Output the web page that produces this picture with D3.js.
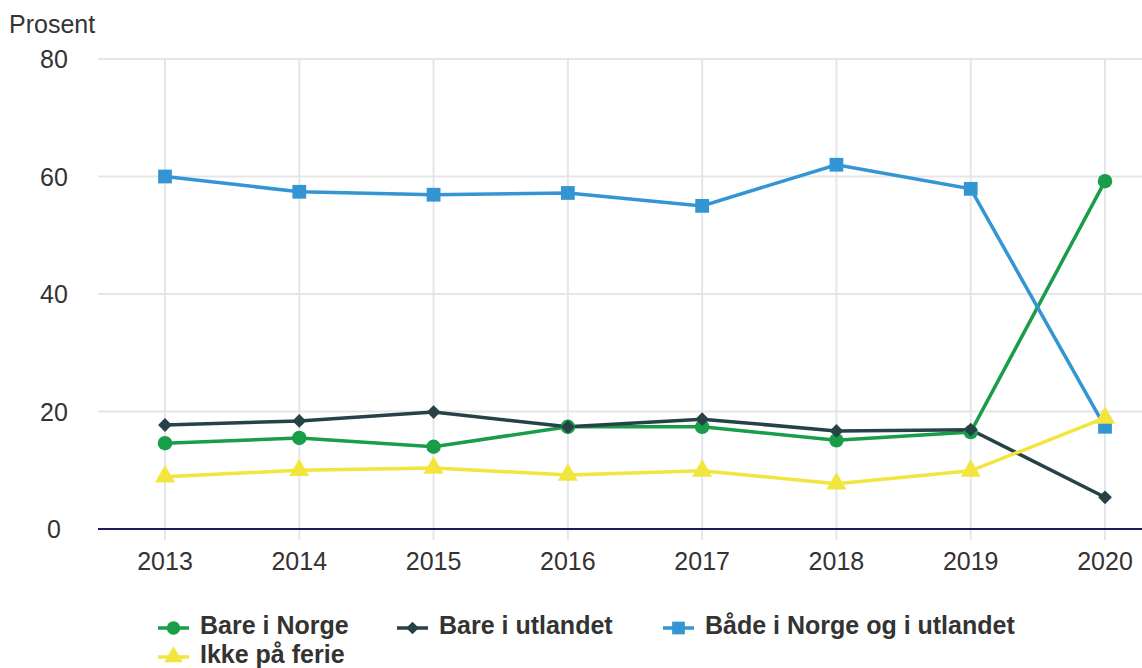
<!DOCTYPE html>
<html>
<head>
<meta charset="utf-8">
<script src="https://cdn.jsdelivr.net/npm/d3@7"></script>
<style>
	body { margin: 0; background: #fff; }
	svg { font-family: "Liberation Sans", Arial, sans-serif; display: block; }
</style>
</head>
<body>
<div id="chart"></div>
<script>
const years = ["2013", "2014", "2015", "2016", "2017", "2018", "2019", "2020"];
const yTicks = [0, 20, 40, 60, 80];

const bareNorge = [14.6, 15.5, 14.0, 17.4, 17.4, 15.1, 16.5, 59.2];
const bareUtlandet = [17.7, 18.4, 19.9, 17.4, 18.7, 16.7, 16.9, 5.4];
const baade = [60.0, 57.4, 56.9, 57.2, 55.0, 62.0, 57.9, 17.4];
const ikkeFerie = [8.9, 10.0, 10.4, 9.2, 9.9, 7.7, 9.9, 18.9];

const series = [
	{ name: "Bare i Norge", values: bareNorge, color: "#1a9d49", symbol: d3.symbolCircle, size: 165, rot: 0 },
	{ name: "Bare i utlandet", values: bareUtlandet, color: "#274247", symbol: d3.symbolSquare, size: 95, rot: 45 },
	{ name: "Både i Norge og i utlandet", values: baade, color: "#3396d3", symbol: d3.symbolSquare, size: 190, rot: 0 },
	{ name: "Ikke på ferie", values: ikkeFerie, color: "#f2e53d", symbol: d3.symbolTriangle, size: 175, rot: 0 },
];

const w = 1142;
const h = 668;
const plotLeft = 98;
const plotTop = 59;
const plotBottom = 529;
const fontSize = 25;

const svg = d3
	.select("#chart")
	.append("svg")
	.attr("width", w)
	.attr("height", h);

const xScale = d3.scalePoint().domain(years).range([165, 1105]);
const yScale = d3.scaleLinear().domain([0, 80]).range([plotBottom, plotTop]);

// grid
svg
	.append("g")
	.selectAll("line")
	.data(yTicks.filter((t) => t > 0))
	.enter()
	.append("line")
	.attr("x1", plotLeft)
	.attr("x2", w)
	.attr("y1", (d) => yScale(d))
	.attr("y2", (d) => yScale(d))
	.attr("stroke", "#e6e6e6")
	.attr("stroke-width", 2);

svg
	.append("g")
	.selectAll("line")
	.data(years)
	.enter()
	.append("line")
	.attr("x1", (d) => xScale(d))
	.attr("x2", (d) => xScale(d))
	.attr("y1", plotTop)
	.attr("y2", plotBottom + 11)
	.attr("stroke", "#e4e6ee")
	.attr("stroke-width", 2);

// axis line
svg
	.append("line")
	.attr("x1", plotLeft)
	.attr("x2", w)
	.attr("y1", plotBottom)
	.attr("y2", plotBottom)
	.attr("stroke", "#1a1d59")
	.attr("stroke-width", 2);

// y labels
svg
	.append("g")
	.selectAll("text")
	.data(yTicks)
	.enter()
	.append("text")
	.attr("x", 54)
	.attr("y", (d) => yScale(d) + 9)
	.attr("text-anchor", "middle")
	.attr("font-size", fontSize)
	.attr("fill", "#333")
	.text((d) => d);

svg
	.append("text")
	.attr("x", 9)
	.attr("y", 33)
	.attr("font-size", fontSize)
	.attr("fill", "#333")
	.text("Prosent");

// x labels
svg
	.append("g")
	.selectAll("text")
	.data(years)
	.enter()
	.append("text")
	.attr("x", (d) => xScale(d))
	.attr("y", 570)
	.attr("text-anchor", "middle")
	.attr("font-size", fontSize)
	.attr("fill", "#333")
	.text((d) => d);

// lines + markers
const line = d3
	.line()
	.x((d, i) => xScale(years[i]))
	.y((d) => yScale(d));

series.forEach((s) => {
	svg
		.append("path")
		.datum(s.values)
		.attr("d", line)
		.attr("fill", "none")
		.attr("stroke", s.color)
		.attr("stroke-width", 3.5);
});

series.forEach((s) => {
	svg
		.append("g")
		.selectAll("path")
		.data(s.values)
		.enter()
		.append("path")
		.attr("d", d3.symbol().type(s.symbol).size(s.size))
		.attr(
			"transform",
			(d, i) => "translate(" + xScale(years[i]) + "," + yScale(d) + ") rotate(" + s.rot + ")"
		)
		.attr("fill", s.color);
});

// legend
const legendPos = [
	[158, 628],
	[397, 628],
	[663, 628],
	[158, 657],
];
series.forEach((s, i) => {
	const [lx, ly] = legendPos[i];
	const g = svg.append("g").attr("transform", "translate(" + lx + "," + ly + ")");
	g.append("line")
		.attr("x1", 0)
		.attr("x2", 31)
		.attr("stroke", s.color)
		.attr("stroke-width", 3.5);
	g.append("path")
		.attr("d", d3.symbol().type(s.symbol).size(s.size * 0.85))
		.attr("transform", "translate(15.5,0) rotate(" + s.rot + ")")
		.attr("fill", s.color);
	g.append("text")
		.attr("x", 42)
		.attr("y", 6)
		.attr("font-size", fontSize)
		.attr("font-weight", "bold")
		.attr("fill", "#333")
		.text(s.name);
});
</script>
</body>
</html>
